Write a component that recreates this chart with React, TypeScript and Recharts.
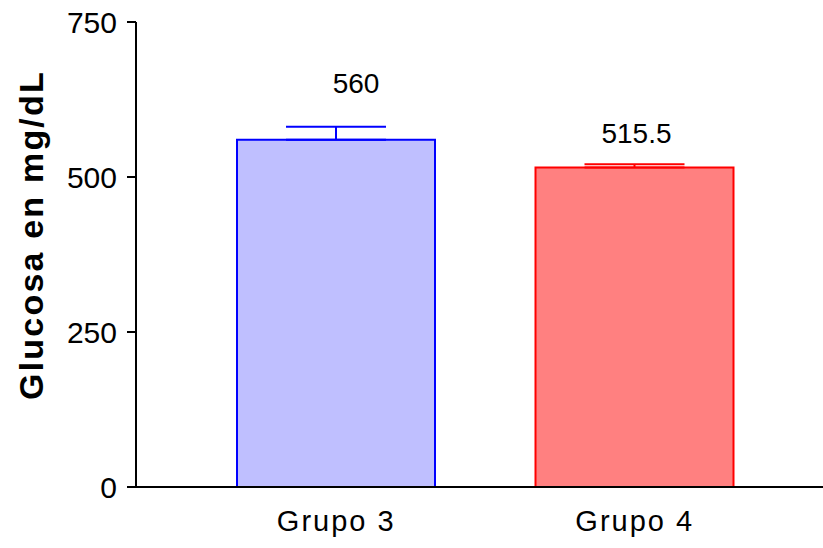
import React from 'react';
import { BarChart, Bar, XAxis, YAxis, ErrorBar, LabelList } from 'recharts';

// group names, means and SEM for blood glucose
const groups = ['Grupo 3', 'Grupo 4'];
const means = [560, 515.5];
const sems = [21, 5];
const yTicks = [0, 250, 500, 750];

// one series per group so each keeps its own colour and error bar
const rows = groups.map((name, i) => ({
  name,
  g3: i === 0 ? means[i] : null,
  g4: i === 1 ? means[i] : null,
  g3Err: i === 0 ? [0, sems[i]] : null,
  g4Err: i === 1 ? [0, sems[i]] : null,
}));

const FONT = '"Liberation Sans", Arial, sans-serif';

// mean printed above each bar, lifted/shifted per series
const valueLabel = (lift: number, shift: number) => (props: any) => {
  const { x, y, width, value } = props;
  if (value === null || value === undefined) return null;
  return (
    <text
      x={Number(x) + Number(width) / 2 + shift}
      y={Number(y) - lift}
      textAnchor="middle"
      fontSize={28}
      fontFamily={FONT}
      fill="#000"
    >
      {value}
    </text>
  );
};

const YTitle = () => (
  <text
    x={43}
    y={235}
    transform="rotate(-90 43 235)"
    textAnchor="middle"
    fontSize={34}
    fontWeight="bold"
    letterSpacing={2.2}
    fontFamily={FONT}
    fill="#000"
  >
    Glucosa en mg/dL
  </text>
);

export default function App() {
  return (
    <div style={{ position: 'absolute', left: 0, top: 0, width: 823, height: 548, background: '#fff' }}>
      <BarChart
        width={823}
        height={548}
        data={rows}
        margin={{ top: 22, right: 0, left: 0, bottom: 0 }}
      >
        <XAxis
          dataKey="name"
          height={61}
          padding={{ left: 51, right: 39 }}
          axisLine={{ stroke: '#000', strokeWidth: 2 }}
          tickLine={false}
          tickSize={0}
          tickMargin={23}
          tick={{ fill: '#000', fontSize: 29, fontFamily: FONT, letterSpacing: 2 }}
        />
        <YAxis
          type="number"
          width={136}
          domain={[0, 750]}
          ticks={yTicks}
          interval={0}
          axisLine={{ stroke: '#000', strokeWidth: 2 }}
          tickLine={{ stroke: '#000', strokeWidth: 2 }}
          tickSize={9}
          tickMargin={10}
          tick={{ fill: '#000', fontSize: 30, fontFamily: FONT }}
        />
        <Bar
          dataKey="g3"
          stackId="s"
          barSize={198}
          fill="#BFBFFF"
          stroke="#0000FF"
          strokeWidth={2}
          isAnimationActive={false}
        >
          <ErrorBar dataKey="g3Err" width={50} stroke="#0000FF" strokeWidth={2} direction="y" />
          <LabelList dataKey="g3" content={valueLabel(47, 20)} />
        </Bar>
        <Bar
          dataKey="g4"
          stackId="s"
          barSize={198}
          fill="#FF8080"
          stroke="#FF0000"
          strokeWidth={2}
          isAnimationActive={false}
        >
          <ErrorBar dataKey="g4Err" width={50} stroke="#FF0000" strokeWidth={2} direction="y" />
          <LabelList dataKey="g4" content={valueLabel(24, 2)} />
        </Bar>
        <YTitle />
      </BarChart>
    </div>
  );
}
